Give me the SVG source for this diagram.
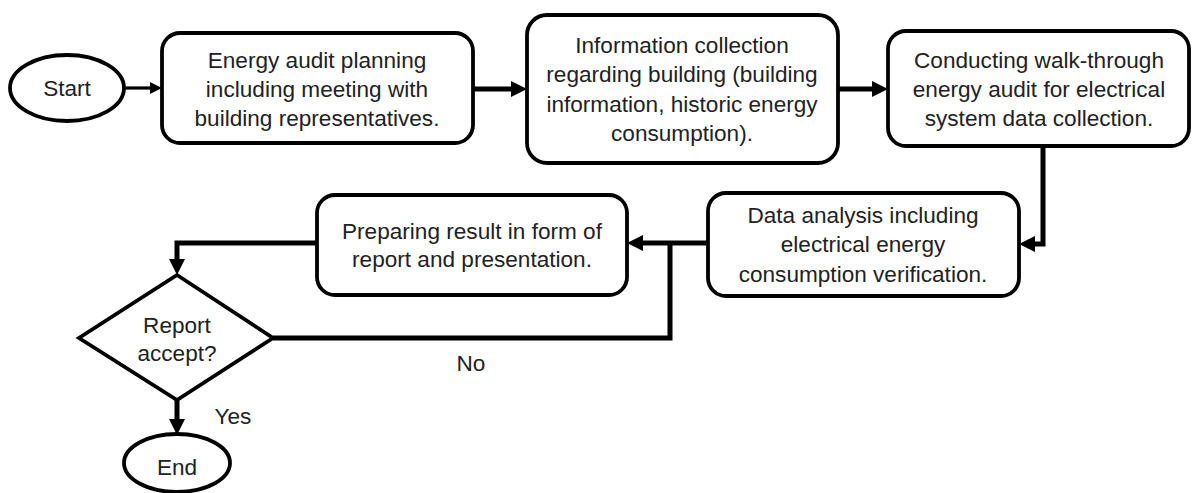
<svg xmlns="http://www.w3.org/2000/svg" width="1193" height="493" viewBox="0 0 1193 493">
  <style>
    .shape { fill: #ffffff; stroke: #000000; stroke-width: 3.8; }
    .conn { fill: none; stroke: #000000; stroke-width: 5; stroke-linejoin: miter; }
    .thin { stroke-width: 3.2; }
    text { font-family: "Liberation Sans", Arial, sans-serif; font-size: 22.6px; fill: #222222; text-anchor: middle; }
  </style>
  <defs>
    <marker id="ah" markerUnits="userSpaceOnUse" markerWidth="16" markerHeight="16" refX="8" refY="8" orient="auto">
      <path d="M0,0 L16,8 L0,16 z" fill="#000"/>
    </marker>
    <marker id="ahs" markerUnits="userSpaceOnUse" markerWidth="12" markerHeight="12" refX="6" refY="6" orient="auto">
      <path d="M0,0 L12,6 L0,12 z" fill="#000"/>
    </marker>
  </defs>
  <rect width="1193" height="493" fill="#ffffff"/>

  <g id="connectors">
    <path class="conn thin" d="M124,88 H156" marker-end="url(#ahs)"/>
    <path class="conn" d="M473,89 H519" marker-end="url(#ah)"/>
    <path class="conn" d="M838,89 H880" marker-end="url(#ah)"/>
    <path class="conn" d="M1043,146 V244 H1027" marker-end="url(#ah)"/>
    <path class="conn" d="M708,243 H635" marker-end="url(#ah)"/>
    <path class="conn" d="M317,243 H177 V267" marker-end="url(#ah)"/>
    <path class="conn" d="M273,338 H670 V243"/>
    <path class="conn" d="M177,400 V427" marker-end="url(#ah)"/>
  </g>

  <g id="start">
    <ellipse class="shape" cx="67" cy="88" rx="57" ry="33"/>
    <text x="67" y="96">Start</text>
  </g>

  <g id="box1">
    <rect class="shape" x="162" y="33" width="311" height="110" rx="18"/>
    <text x="317" y="68">Energy audit planning</text>
    <text x="317" y="97">including meeting with</text>
    <text x="317" y="126">building representatives.</text>
  </g>

  <g id="box2">
    <rect class="shape" x="527" y="15" width="311" height="148" rx="20"/>
    <text x="682" y="53">Information collection</text>
    <text x="682" y="82">regarding building (building</text>
    <text x="682" y="112">information, historic energy</text>
    <text x="682" y="141">consumption).</text>
  </g>

  <g id="box3">
    <rect class="shape" x="888" y="31" width="301" height="115" rx="18"/>
    <text x="1039" y="68">Conducting walk-through</text>
    <text x="1039" y="97">energy audit for electrical</text>
    <text x="1039" y="126">system data collection.</text>
  </g>

  <g id="box4">
    <rect class="shape" x="708" y="193" width="311" height="103" rx="18"/>
    <text x="863" y="223">Data analysis including</text>
    <text x="863" y="252">electrical energy</text>
    <text x="863" y="282">consumption verification.</text>
  </g>

  <g id="box5">
    <rect class="shape" x="317" y="195" width="310" height="100" rx="18"/>
    <text x="472" y="239">Preparing result in form of</text>
    <text x="472" y="267">report and presentation.</text>
  </g>

  <g id="decision">
    <polygon class="shape" points="177,275 273,338 177,400 79,338" stroke-width="4"/>
    <text x="177" y="333">Report</text>
    <text x="177" y="361">accept?</text>
  </g>

  <g id="end">
    <ellipse class="shape" cx="177" cy="463" rx="53" ry="29"/>
    <text x="177" y="475">End</text>
  </g>

  <g id="labels">
    <text x="233" y="424">Yes</text>
    <text x="471" y="371">No</text>
  </g>
</svg>
